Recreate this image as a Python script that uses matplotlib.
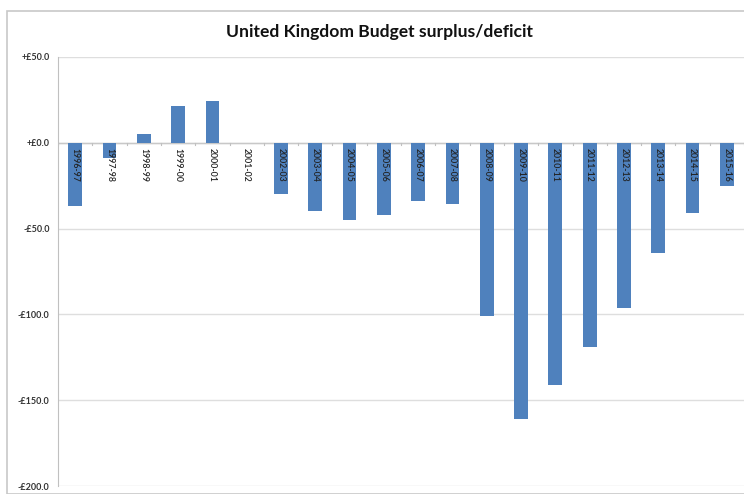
import matplotlib
matplotlib.use("Agg")
import matplotlib.pyplot as plt
from matplotlib.patches import Rectangle

years = ["1996-97", "1997-98", "1998-99", "1999-00", "2000-01", "2001-02",
         "2002-03", "2003-04", "2004-05", "2005-06", "2006-07", "2007-08",
         "2008-09", "2009-10", "2010-11", "2011-12", "2012-13", "2013-14",
         "2014-15", "2015-16"]
balance = [-37, -9, 5, 21.5, 24, 0, -30, -40, -45, -42, -34, -36,
           -101, -161, -141, -119, -96, -64, -41, -25]
yticks = [50, 0, -50, -100, -150, -200]
ytick_labels = ["+£50.0", "+£0.0", "-£50.0", "-£100.0", "-£150.0", "-£200.0"]

plt.rcParams['font.family'] = ['Lato', 'DejaVu Sans']

fig = plt.figure(figsize=(7.44, 4.94), dpi=100)
fig.patches.append(Rectangle((0.01, 0.0), 1.0, 0.977, transform=fig.transFigure,
                             fill=False, edgecolor='#c8c8c8', linewidth=1.2))
ax = fig.add_axes([0.078, 0.016, 0.922, 0.869])

x = list(range(len(years)))
ax.bar(x, balance, width=0.4, color='#4F81BD', zorder=3)

ax.set_xlim(-0.5, 19.5)
ax.set_ylim(-200, 50)
ax.set_yticks(yticks)
ax.set_yticklabels(ytick_labels, fontsize=6.5, fontweight='bold', color='#333333')
ax.tick_params(axis='y', length=0, pad=6)
ax.set_xticks([])
ax.grid(axis='y', color='#dedede', linewidth=1.0, zorder=0)
for s in ['top', 'right', 'bottom']:
    ax.spines[s].set_visible(False)
ax.spines['left'].set_color('#c0c0c0')
ax.axhline(0, color='#c8c8c8', linewidth=1.0, zorder=2)
for i in range(len(years) + 1):
    ax.plot([i - 0.5, i - 0.5], [0, -1.5], color='#c0c0c0', linewidth=0.8, zorder=2)

for i, lab in enumerate(years):
    ax.text(i, -3, lab, rotation=270, va='top', ha='center', fontsize=6.3,
            fontweight='semibold', color='#222222', zorder=4)

fig.text(0.51, 0.935, "United Kingdom Budget surplus/deficit", ha='center', va='center',
         fontsize=12.6, fontweight='bold', color='#111111')

fig.savefig("out.png", dpi=100)
